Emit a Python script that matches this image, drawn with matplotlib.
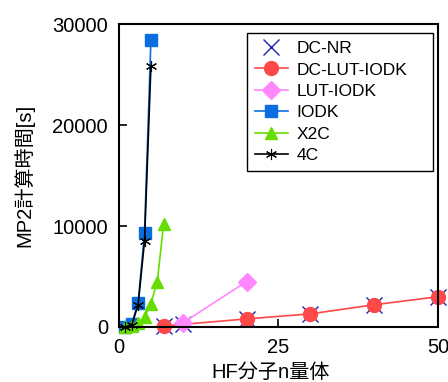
import matplotlib
matplotlib.use("Agg")
import matplotlib.pyplot as plt

plt.rcParams['font.family'] = ['Liberation Sans', 'Noto Sans CJK JP', 'DejaVu Sans']

dcnr_x = [7, 10, 20, 30, 40, 50]
dcnr_y = [100, 300, 800, 1300, 2200, 3000]
dclut_x = [7, 20, 30, 40, 50]
dclut_y = [100, 800, 1300, 2200, 3000]
lut_x = [10, 20]
lut_y = [400, 4500]
iodk_x = [1, 2, 3, 4, 5]
iodk_y = [20, 300, 2400, 9300, 28400]
x2c_x = [1, 2, 3, 4, 5, 6, 7]
x2c_y = [10, 100, 400, 1000, 2300, 4500, 10200]
c4_x = [1, 2, 3, 4, 5]
c4_y = [10, 200, 2200, 8500, 25800]

fig = plt.figure(figsize=(4.48, 3.82), dpi=100)
ax = fig.add_axes([0.2656, 0.144, 0.712, 0.793])

ax.plot(dcnr_x, dcnr_y, linestyle='none', marker='x', color='#2020b0', ms=12, mew=1.0, label='DC-NR', clip_on=False)
ax.plot(dclut_x, dclut_y, color='#ff4848', marker='o', ms=10, lw=1.2, label='DC-LUT-IODK', clip_on=False)
ax.plot(lut_x, lut_y, color='#ff88ff', marker='D', ms=9, lw=1.2, label='LUT-IODK', clip_on=False)
ax.plot(iodk_x, iodk_y, color='#0a6ee0', marker='s', ms=8, lw=1.2, label='IODK', clip_on=False)
ax.plot(x2c_x, x2c_y, color='#66dd00', marker='^', ms=9, lw=1.2, label='X2C', clip_on=False)
ax.plot(c4_x, c4_y, color='black', marker=(6, 2, 0), ms=8, mew=0.8, lw=1.2, label='4C', clip_on=False)

ax.set_xlim(0, 50)
ax.set_ylim(0, 30000)
ax.set_xticks([0, 25, 50])
ax.set_yticks([0, 10000, 20000, 30000])
ax.tick_params(direction='in', labelsize=14.5, length=6, width=1.2, pad=8)
for s in ax.spines.values():
    s.set_linewidth(1.5)

ax.set_xlabel('HF分子n量体', fontsize=14.5)
ax.set_ylabel('MP2計算時間[s]', fontsize=14.5)
ax.yaxis.set_label_coords(-0.265, 0.5)
ax.xaxis.set_label_coords(0.475, -0.118)

leg = ax.legend(loc='upper left', fontsize=12.5, frameon=True, fancybox=False,
                edgecolor='black', framealpha=1, handlelength=1.9, handletextpad=0.5,
                borderpad=0.45, labelspacing=0.36, borderaxespad=0,
                mode='expand', bbox_to_anchor=(0.401, 0.0, 0.583, 0.970))
leg.get_frame().set_linewidth(1.0)

fig.savefig('out.png', dpi=100)
